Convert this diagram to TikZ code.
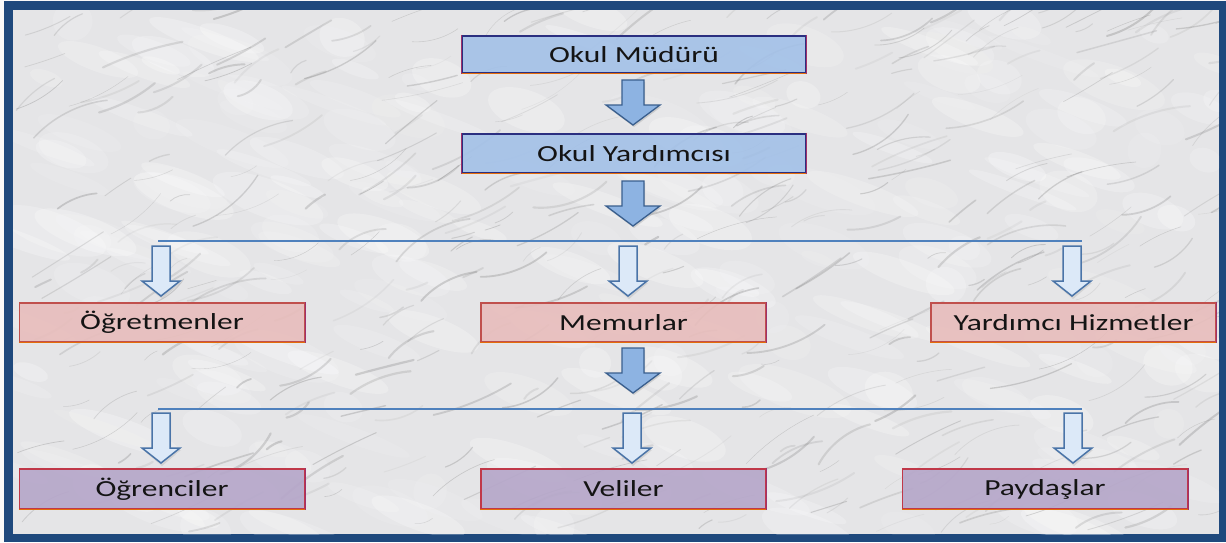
\documentclass[tikz,border=0pt]{standalone}
\usepackage{fontspec}
\usepackage{graphicx}
\setmainfont{Carlito}
\definecolor{frameblue}{HTML}{1F497D}
\definecolor{marble}{HTML}{E5E5E7}
\definecolor{bluebox}{HTML}{A3C1E8}
\definecolor{pinkbox}{HTML}{E8BDBC}
\definecolor{purplebox}{HTML}{B5A6C9}
\definecolor{navyedge}{HTML}{2B2F80}
\definecolor{rededge}{HTML}{C0504D}
\definecolor{orangeedge}{HTML}{E46C0A}
\definecolor{magentaedge}{HTML}{A0306A}
\definecolor{bigfill}{HTML}{8DB3E2}
\definecolor{bigedge}{HTML}{3A5F8E}
\definecolor{smallfill}{HTML}{DCE9F8}
\definecolor{smalledge}{HTML}{4A74A8}
\definecolor{linkblue}{HTML}{4F81BD}
\definecolor{txt}{HTML}{141414}
\newcommand{\wtxt}[1]{\scalebox{1.37}[1]{#1}}
\tikzset{
  box/.style={rectangle, inner sep=0pt, text=txt,
    font=\fontsize{23}{27}\selectfont, line width=1.2pt},
  bluestyle/.style={box, fill=bluebox, fill opacity=0.9, text opacity=1, draw=navyedge, minimum width=344pt},
  pinkstyle/.style={box, fill=pinkbox, fill opacity=0.9, text opacity=1, draw=rededge, minimum width=285pt, minimum height=39pt},
  purplestyle/.style={box, fill=purplebox, fill opacity=0.9, text opacity=1, draw=rededge!70!purple, minimum width=285pt, minimum height=40pt},
  bigarrow/.pic={
    \fill[gray!60, opacity=0.5] (-10,2) -- (12,2) -- (12,27) -- (28,27) -- (1,47) -- (-26,27) -- (-10,27) -- cycle;
    \draw[fill=bigfill, draw=bigedge, line width=1.3pt, line join=miter]
      (-11,0) -- (11,0) -- (11,25) -- (27,25) -- (0,45) -- (-27,25) -- (-11,25) -- cycle;
  },
  smallarrow/.pic={
    \fill[gray!50, opacity=0.5] (-8,2) -- (10,2) -- (10,37) -- (20,37) -- (1,53) -- (-18,37) -- (-8,37) -- cycle;
    \draw[fill=smallfill, draw=smalledge, line width=1.5pt, line join=miter]
      (-9,0) -- (9,0) -- (9,35) -- (19,35) -- (0,50) -- (-19,35) -- (-9,35) -- cycle;
  },
  hline/.style={draw=linkblue, line width=1.4pt},
}
\begin{document}
\begin{tikzpicture}[x=1pt, y=-1pt]
\useasboundingbox (0,0) rectangle (1226,542);
% page and frame
\fill[white!95!gray] (0,0) rectangle (1226,542);
\fill[frameblue] (4,1) rectangle (1226,542);
\fill[marble] (13,10) rectangle (1219,534);
% marble texture
\begin{scope}
\clip (13,10) rectangle (1219,534);
\pgfmathsetseed{4242}
\foreach \i in {1,...,260}{
  \pgfmathsetmacro{\xa}{13+rnd*1206}
  \pgfmathsetmacro{\ya}{10+rnd*524}
  \pgfmathsetmacro{\rx}{15+rnd*45}
  \pgfmathsetmacro{\ry}{6+rnd*14}
  \pgfmathsetmacro{\op}{0.08+rnd*0.18}
  \fill[white, opacity=\op, rotate around={-20:(\xa,\ya)}] (\xa,\ya) ellipse [x radius=\rx, y radius=\ry];
}
\foreach \i in {1,...,420}{
  \pgfmathsetmacro{\xa}{13+rnd*1206}
  \pgfmathsetmacro{\ya}{10+rnd*524}
  \pgfmathsetmacro{\len}{15+rnd*70}
  \pgfmathsetmacro{\ang}{-12-rnd*28}
  \pgfmathsetmacro{\op}{0.06+rnd*0.2}
  \pgfmathsetmacro{\lw}{0.4+rnd*1.8}
  \pgfmathsetmacro{\bend}{-25+rnd*50}
  \draw[gray!80!black, opacity=\op, line width=\lw pt, line cap=round]
    (\xa,\ya) .. controls +(\ang+\bend:\len/3) and +(\ang+180-\bend:\len/3) .. +(\ang:\len);
}
\end{scope}

% nodes
\node[bluestyle, minimum height=37pt] (mudur) at (634,54.5) {\wtxt{Okul Müdürü}};
\node[bluestyle, minimum height=39pt] (yard) at (634,153.5) {\wtxt{Okul Yardımcısı}};
\node[pinkstyle] (ogret) at (162,322.5) {\wtxt{Öğretmenler}};
\node[pinkstyle] (memur) at (623.5,322.5) {\wtxt{Memurlar}};
\node[pinkstyle] (yhiz) at (1073.5,322.5) {\wtxt{Yardımcı Hizmetler}};
\node[purplestyle] (ogrenci) at (162,489) {\wtxt{Öğrenciler}};
\node[purplestyle] (veli) at (623.5,489) {\wtxt{Veliler}};
\node[purplestyle] (paydas) at (1045,489) {\wtxt{Paydaşlar}};

% edge accents
\foreach \n in {mudur,yard,ogret,memur,yhiz,ogrenci,veli,paydas}{
  \draw[orangeedge, line width=1.4pt] (\n.south west) -- (\n.south east);
  \draw[magentaedge, line width=1.2pt] (\n.north east) -- (\n.south east);
}
\foreach \n in {mudur,yard}{
  \draw[magentaedge, line width=1.2pt] (\n.north west) -- (\n.south west);
}

% big arrows
\pic at (633,80) {bigarrow};
\pic at (633,181) {bigarrow};
\pic at (633,348) {bigarrow};

% distribution lines
\coordinate (l1a) at (158,241);
\coordinate (l1b) at (1082,241);
\coordinate (l2a) at (158,409);
\coordinate (l2b) at (1082,409);
\draw[hline] (l1a) -- (l1b);
\draw[hline] (l2a) -- (l2b);

% small arrows
\pic at (161,246) {smallarrow};
\pic at (628,246) {smallarrow};
\pic at (1072,246) {smallarrow};
\pic at (161,413) {smallarrow};
\pic at (632,413) {smallarrow};
\pic at (1073,413) {smallarrow};
\end{tikzpicture}
\end{document}
